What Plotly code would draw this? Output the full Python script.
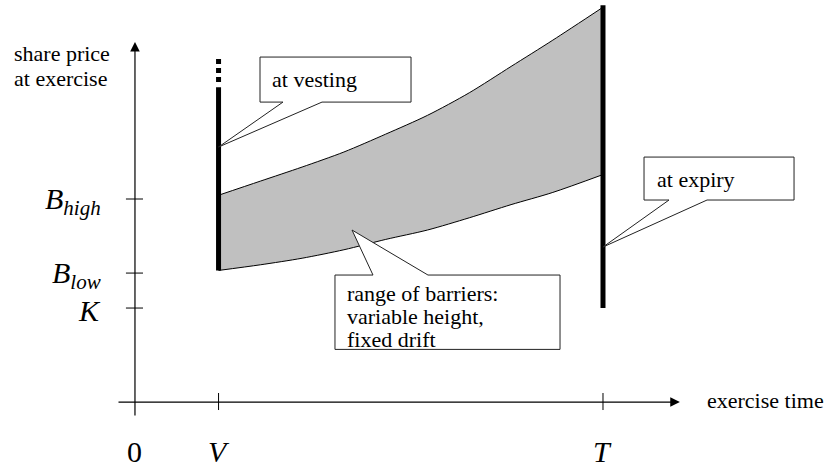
import plotly.graph_objects as go

# ── diagram values (time in units of V, price in units of K) ──────────────
t_grid = [1.0, 1.5, 2.0, 2.5, 3.0, 3.5, 4.0, 4.5, 5.0, 5.6]
upper_barrier = [2.20, 2.35, 2.50, 2.66, 2.85, 3.05, 3.29, 3.57, 3.85, 4.20]
lower_barrier = [1.40, 1.46, 1.53, 1.62, 1.73, 1.83, 1.96, 2.10, 2.23, 2.42]

time_ticks = [0.0, 1.0, 5.6]
time_labels = ["0", "<i>V</i>", "<i>T</i>"]
price_ticks = [1.0, 1.372, 2.16]
price_labels = ["<i>K</i>", "<i>B<sub>low</sub></i>", "<i>B<sub>high</sub></i>"]

V, T = time_ticks[1], time_ticks[2]
K = price_ticks[0]
vest_top = 3.35          # top of solid bar at vesting
vest_dots = [3.404, 3.649]
expiry_top = 4.22

SERIF = "'Liberation Serif', 'Times New Roman', serif"
TXT = 22

fig = go.Figure()

# shaded range of barriers
fig.add_trace(go.Scatter(x=t_grid, y=lower_barrier, mode="lines",
                         line=dict(color="black", width=1, shape="spline", smoothing=0.8),
                         hoverinfo="skip"))
fig.add_trace(go.Scatter(x=t_grid, y=upper_barrier, mode="lines", fill="tonexty",
                         fillcolor="#c0c0c0",
                         line=dict(color="black", width=1, shape="spline", smoothing=0.8),
                         hoverinfo="skip"))

# exercise windows
fig.add_trace(go.Scatter(x=[V, V], y=[lower_barrier[0], vest_top], mode="lines",
                         line=dict(color="black", width=5), hoverinfo="skip"))
fig.add_trace(go.Scatter(x=[V, V], y=vest_dots, mode="lines",
                         line=dict(color="black", width=5, dash="5px,4px"),
                         hoverinfo="skip"))
fig.add_trace(go.Scatter(x=[T, T], y=[K, expiry_top], mode="lines",
                         line=dict(color="black", width=5), hoverinfo="skip"))


def callout(x0, x1, ytop, ybot, ta, tb, tip, tail="bottom"):
    tx, ty = tip
    if tail == "bottom":
        p = (f"M{x0},{ytop} L{x1},{ytop} L{x1},{ybot} L{tb},{ybot} "
             f"L{tx},{ty} L{ta},{ybot} L{x0},{ybot} Z")
    else:
        p = (f"M{x0},{ybot} L{x0},{ytop} L{ta},{ytop} L{tx},{ty} "
             f"L{tb},{ytop} L{x1},{ytop} L{x1},{ybot} Z")
    fig.add_shape(type="path", path=p, xref="x", yref="y",
                  fillcolor="white", line=dict(color="#222", width=1),
                  layer="above")


callout(1.496, 3.303, 3.670, 3.191, 1.771, 2.238, (V, 2.713))
callout(6.091, 7.886, 2.606, 2.149, 6.390, 6.845, (T, 1.649))
callout(2.393, 5.086, 1.351, 0.560, 2.848, 3.506, (2.597, 1.830), tail="top")

# axes with arrows
fig.add_annotation(x=0, y=3.83, ax=0, ay=-0.16, xref="x", yref="y",
                   axref="x", ayref="y", text="", showarrow=True,
                   arrowhead=2, arrowsize=1.6, arrowwidth=1.2, arrowcolor="black")
fig.add_annotation(x=6.52, y=0, ax=-0.215, ay=0, xref="x", yref="y",
                   axref="x", ayref="y", text="", showarrow=True,
                   arrowhead=2, arrowsize=1.6, arrowwidth=1.2, arrowcolor="black")

for yv in price_ticks:
    fig.add_shape(type="line", x0=-0.108, x1=0.096, y0=yv, y1=yv,
                  line=dict(color="black", width=1))
for xv in time_ticks[1:]:
    fig.add_shape(type="line", x0=xv, x1=xv, y0=0.096, y1=-0.085,
                  line=dict(color="black", width=1))

# tick labels
for yv, lab in zip(price_ticks, price_labels):
    fig.add_annotation(x=-0.38, y=yv, text=lab, showarrow=False,
                       xanchor="right", yanchor="middle", yshift=-2,
                       font=dict(family=SERIF, size=30, color="black"))
for xv, lab in zip(time_ticks, time_labels):
    fig.add_annotation(x=xv, y=-0.53, text=lab, showarrow=False,
                       xanchor="center", yanchor="middle",
                       font=dict(family=SERIF, size=30, color="black"))

# texts
texts = [
    (-1.47, 3.71, "share price"),
    (-1.47, 3.44, "at exercise"),
    (6.82, 0.02, "exercise time"),
    (1.615, 3.43, "at vesting"),
    (6.22, 2.37, "at expiry"),
    (2.513, 1.16, "range of barriers:"),
    (2.513, 0.915, "variable height,"),
    (2.513, 0.67, "fixed drift"),
]
for xv, yv, s in texts:
    fig.add_annotation(x=xv, y=yv, text=s, showarrow=False,
                       xanchor="left", yanchor="middle",
                       font=dict(family=SERIF, size=TXT, color="black"))

fig.update_layout(
    width=838, height=470,
    margin=dict(l=0, r=0, t=0, b=0),
    paper_bgcolor="white", plot_bgcolor="white",
    showlegend=False,
    font=dict(family=SERIF, color="black"),
    xaxis=dict(range=[-1.615, 8.412], visible=False, fixedrange=True),
    yaxis=dict(range=[-0.723, 4.277], visible=False, fixedrange=True),
)

fig.write_html("out.html", config={"displayModeBar": False},
               post_script="document.body.style.margin='0px';")
